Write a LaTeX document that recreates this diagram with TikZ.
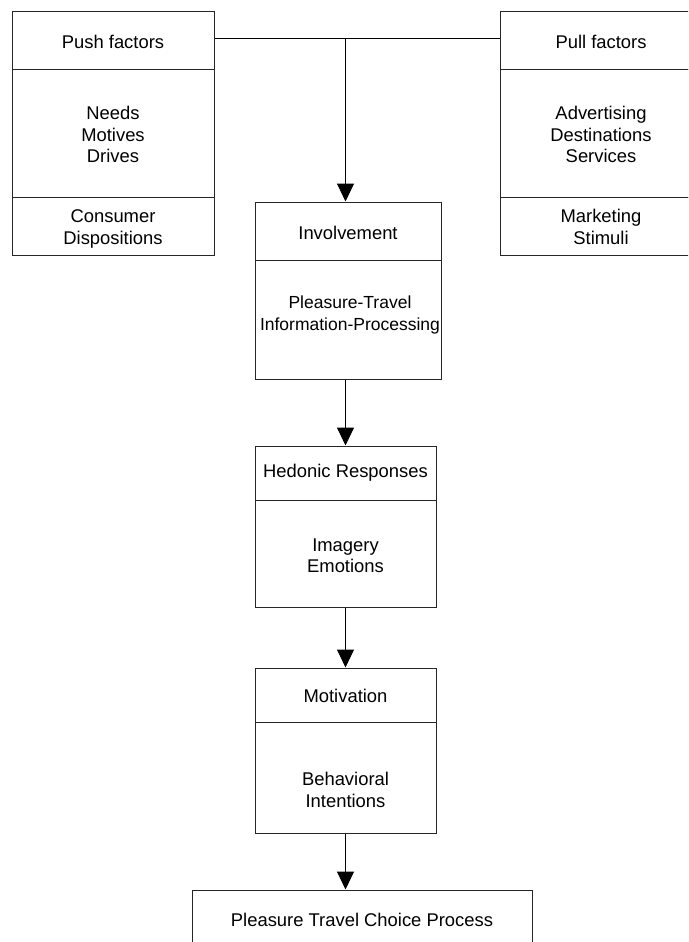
\documentclass[tikz,border=0pt]{standalone}
\usepackage{fontspec}
\setmainfont{Liberation Sans}
\usetikzlibrary{arrows.meta}

\tikzset{
  sec/.style={draw=black!85, line width=1pt, rectangle, inner sep=0pt},
  txt/.style={inner sep=0pt, align=center, font=\fontsize{18.4}{21.5}\selectfont},
  flow/.style={draw=black, line width=1pt,
    -{Triangle[length=18pt,width=17pt]}},
  link/.style={draw=black, line width=1pt}
}

\begin{document}
\begin{tikzpicture}[x=1pt,y=-1pt]
  \useasboundingbox (0,0) rectangle (688,942);
  \clip (0,0) rectangle (688,942);
  \fill[white] (0,0) rectangle (688,942);

  % push factors column
  \node[sec, minimum width=202pt, minimum height=58pt]  (push)  at (113,41)    {};
  \node[sec, minimum width=202pt, minimum height=127pt] (pushb) at (113,133.5) {};
  \node[sec, minimum width=202pt, minimum height=58pt]  (pushc) at (113,226)   {};
  \node[txt] (pusht)  at (113,42)  {Push factors};
  \node[txt] (pushbt) at (113,134.5) {Needs\\Motives\\Drives};
  \node[txt] (pushct) at (113,229) {Consumer\\Dispositions};

  % pull factors column
  \node[sec, minimum width=202pt, minimum height=58pt]  (pull)  at (601,41)    {};
  \node[sec, minimum width=202pt, minimum height=127pt] (pullb) at (601,133.5) {};
  \node[sec, minimum width=202pt, minimum height=58pt]  (pullc) at (601,226)   {};
  \node[txt] (pullt)  at (601,42)  {Pull factors};
  \node[txt] (pullbt) at (601,134.5) {Advertising\\Destinations\\Services};
  \node[txt] (pullct) at (601,227) {Marketing\\Stimuli};

  % central chain
  \node[sec, minimum width=186pt, minimum height=58pt]  (inv)  at (348,231)   {};
  \node[sec, minimum width=186pt, minimum height=119pt] (invb) at (348,319.5) {};
  \node[txt] (invt)  at (348,233) {Involvement};
  \node[txt, font=\fontsize{17.5}{21.5}\selectfont] (invbt) at (350,315) {Pleasure-Travel\\Information-Processing};

  \node[sec, minimum width=181pt, minimum height=54pt]  (hed)  at (345.5,473)   {};
  \node[sec, minimum width=181pt, minimum height=107pt] (hedb) at (345.5,553.5) {};
  \node[txt] (hedt)  at (345.5,473) {Hedonic Responses};
  \node[txt] (hedbt) at (345.5,556) {Imagery\\Emotions};

  \node[sec, minimum width=181pt, minimum height=54pt]  (mot)  at (345.5,695)   {};
  \node[sec, minimum width=181pt, minimum height=111pt] (motb) at (345.5,777.5) {};
  \node[txt] (mott)  at (345.5,696) {Motivation};
  \node[txt] (motbt) at (345.5,790) {Behavioral\\Intentions};

  \node[sec, minimum width=340pt, minimum height=70pt]  (choice)  at (362,925) {};
  \node[txt] (choicet) at (362,920) {Pleasure Travel Choice Process};

  % connectors
  \coordinate (axis) at (345.5,0);
  \coordinate (hline) at (0,39);
  \coordinate (junc) at (axis |- hline);
  \draw[link] (push.east |- hline) -- (pull.west |- hline);
  \draw[flow] (junc) -- (inv.north -| axis);
  \draw[flow] (invb.south -| axis) -- (hed.north -| axis);
  \draw[flow] (hedb.south -| axis) -- (mot.north -| axis);
  \draw[flow] (motb.south -| axis) -- (choice.north -| axis);
\end{tikzpicture}
\end{document}
